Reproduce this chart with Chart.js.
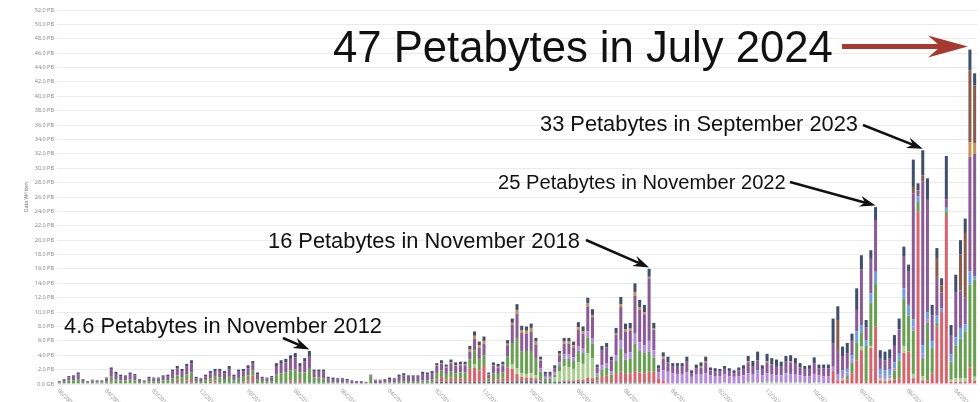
<!DOCTYPE html>
<html>
<head>
<meta charset="utf-8">
<script src="https://cdn.jsdelivr.net/npm/chart.js@4"></script>
<style>
html, body { margin: 0; padding: 0; background: #fff; }
</style>
</head>
<body>
<canvas id="chart1" width="980" height="402"></canvas>
<script>
// monthly categories, 06/2008 .. 08/2024
var firstYear = 2008, firstMonth = 6, monthCount = 195;
var months = [];
for (var k = 0; k < monthCount; k++) {
    var m = (firstMonth - 1 + k) % 12 + 1;
    var y = firstYear + Math.floor((firstMonth - 1 + k) / 12);
    months.push((m < 10 ? '0' : '') + m + '/' + y);
}

// stacked series, PB per month (bottom to top)
var slate = [
 .1,.1,.1,.1,.1,.1,.1,.1,.1,.1,
 .1,.2,.1,.1,.1,.1,.1,.1,.1,.1,
 .1,.1,.1,.1,.2,.2,.2,.2,.2,.1,
 .1,.1,.1,.2,.2,.1,.2,.1,.2,.2,
 .2,.2,.1,.1,.1,.1,.2,.2,.2,.2,
 .2,.2,.2,.2,.2,.2,.2,.1,.1,.1,
 .1,.1,.1,.1,.1,.1,.1,.1,.1,.1,
 .1,.1,.1,.1,.1,.1,.1,.2,.2,.2,
 .3,.3,.3,.3,.3,.3,.3,.3,.3,.3,
 .3,.3,.3,.3,.3,.3,.3,.4,.4,.4,
 .4,.4,.3,.3,.3,.3,.3,.3,.3,.3,
 .3,.3,.3,.3,.2,.2,.2,.2,.2,.2,
 .2,.2,.2,.2,.2,.2,.2,0,0,0,
 0,0,0,0,0,0,0,0,0,0,
 0,0,0,0,0,0,0,0,0,0,
 0,0,0,0,0,0,0,0,0,0,
 0,0,0,0,0,0,0,0,0,0,
 0,0,0,0,0,0,0,0,0,0,
 0,0,0,0,0,0,0,0,0,0,
 0,0,0,0,0
];
var red = [
 0,0,0,0,0,0,0,0,0,0,
 0,.2,0,0,0,0,0,0,0,0,
 0,0,0,0,0,.4,0,.3,.5,0,
 0,0,.2,.3,0,0,0,0,0,.2,
 .3,1.0,0,0,0,0,0,0,0,.3,
 0,.5,0,0,0,0,0,0,0,0,
 0,0,0,0,0,0,0,0,0,0,
 0,0,0,0,0,0,0,0,0,0,
 .3,.8,.3,.6,.4,.5,.4,1.8,2.0,1.6,
 2.2,.1,.4,.3,.5,2.0,1.8,1.0,.6,.5,
 .5,.4,.2,0,0,0,0,.2,.2,.2,
 .3,.3,.6,.5,.3,.8,1.0,.5,1.2,1.5,
 1.2,1.3,1.6,1.4,1.3,1.5,1.5,.8,.5,.2,
 0,0,0,0,0,0,0,0,0,0,
 0,0,0,0,0,0,0,0,0,0,
 0,0,0,0,0,0,0,0,0,0,
 0,0,0,0,1.8,.5,.5,.6,1.5,3.3,
 4.7,.3,5.0,8.0,.5,.4,.5,.6,.8,4.3,
 4.5,.8,24.0,.5,.5,1.5,8.0,10.0,23.5,.3,
 .3,.3,.3,2.3,.5
];
var lightGreen = [
 0,0,0,0,0,0,0,0,0,0,
 0,0,0,0,0,0,0,0,0,0,
 0,0,0,0,0,0,0,0,0,0,
 0,0,0,0,0,0,0,0,0,0,
 0,0,0,0,0,0,0,0,0,0,
 0,0,0,0,0,0,0,0,0,0,
 0,0,0,0,0,0,0,0,0,0,
 0,0,0,0,0,0,0,0,0,0,
 0,0,0,0,0,0,0,0,.4,0,
 0,0,0,0,0,0,.6,.8,.5,.5,
 .6,.4,0,0,0,.6,1.5,2.0,1.8,1.6,
 2.4,2.2,3.4,2.8,0,0,0,0,0,0,
 0,0,0,0,0,0,0,0,0,0,
 0,0,0,0,0,0,0,0,0,0,
 0,.2,0,0,0,0,.3,.2,.2,.2,
 .3,.3,.2,.2,.2,.2,.2,.2,.2,.1,
 .2,.2,.1,.1,0,0,.3,0,0,0,
 .5,0,.3,0,.3,.3,.3,0,0,1.0,
 0,.6,0,.6,0,0,0,0,0,.3,
 .5,.5,.5,0,.5
];
var green = [
 .1,.2,.4,.4,.5,.2,.1,.2,.1,.1,
 .3,.6,.5,.4,.4,.5,.4,.2,.1,.3,
 .3,.3,.4,.4,.6,.6,.7,.8,.9,.3,
 .2,.4,.5,.5,.7,.6,.8,.4,.6,.6,
 .7,.7,.5,.3,.3,.3,1.1,1.3,1.4,1.4,
 1.8,.9,1.4,1.9,.7,.7,.6,.2,.1,.1,
 .1,.1,0,0,0,0,.9,0,0,.1,
 .1,.1,.2,.3,.2,.2,.2,.3,.3,.4,
 .9,.8,.8,.9,.8,.8,.9,1.3,2.0,1.6,
 1.5,.4,.8,.8,.8,1.5,3.0,4.2,3.0,3.2,
 3.1,2.3,1.2,.4,.4,.4,.7,1.0,1.2,1.1,
 1.6,1.5,2.2,2.0,.5,1.0,1.1,.6,1.8,3.2,
 2.0,2.0,3.8,3.0,2.8,2.8,2.0,0,0,0,
 0,0,0,0,0,0,0,0,0,0,
 0,0,0,0,0,0,0,0,0,0,
 0,0,0,0,0,0,0,0,0,0,
 0,0,0,0,0,0,0,.5,1.5,2.5,
 2.0,5.0,6.0,6.0,0,0,0,1.2,2.5,6.5,
 5.0,6.0,1.3,2.5,8.0,3.5,.5,0,.5,2.5,
 4.5,5.5,6.5,11.5,13.5
];
var lavender = [
 0,0,0,0,0,0,0,0,0,0,
 0,0,0,0,0,0,0,0,0,0,
 0,0,0,0,0,0,0,0,0,0,
 0,0,0,0,0,0,0,0,0,0,
 0,0,0,0,0,0,0,0,0,0,
 0,0,0,0,0,0,0,0,0,0,
 0,0,0,0,0,0,0,0,0,0,
 0,0,0,0,0,0,0,0,0,0,
 0,0,0,0,0,0,0,0,0,0,
 0,0,0,0,0,0,0,0,0,0,
 0,0,.5,.3,.3,.3,.5,.6,.6,.5,
 .6,.6,.8,.7,.5,.6,.6,.5,.8,1.2,
 .9,.9,1.4,1.2,1.1,1.5,1.0,.8,1.4,1.5,
 1.5,1.4,1.4,1.6,1.0,1.3,1.3,1.5,1.2,1.1,
 1.1,1.1,1.1,1.0,1.1,1.2,1.2,1.1,1.3,1.0,
 1.2,1.0,1.0,1.0,1.1,1.2,1.1,1.0,.9,1.0,
 1.2,1.0,1.0,1.0,.6,.8,.6,.5,.4,0,
 0,0,0,0,.5,.4,.4,.4,0,0,
 0,.6,0,.6,.5,0,0,0,0,0,
 0,0,0,0,0
];
var blue = [
 0,0,0,0,0,0,0,0,0,0,
 0,0,0,0,0,0,0,0,0,0,
 0,0,0,0,0,0,0,0,0,0,
 0,0,0,0,0,0,0,0,0,0,
 0,0,0,0,0,0,0,0,0,0,
 0,0,0,0,0,0,0,0,0,0,
 0,0,0,0,0,0,0,0,0,0,
 0,0,0,0,0,0,0,0,0,0,
 0,0,0,0,0,0,0,0,0,0,
 0,0,0,0,0,0,0,0,0,0,
 0,0,0,0,0,0,0,0,0,0,
 0,0,0,0,0,0,0,0,0,0,
 0,0,0,0,0,0,0,0,0,0,
 0,0,0,0,0,0,0,0,0,0,
 0,0,0,0,0,0,0,0,.4,0,
 0,0,0,0,.2,0,0,0,0,0,
 0,0,0,0,0,0,.5,.5,.6,1.5,
 1.0,.8,1.3,1.6,.8,.8,.8,.8,.9,1.5,
 1.5,1.0,.8,1.2,1.0,1.0,1.0,.5,.5,1.0,
 1.2,1.5,1.0,1.9,.5
];
var purple = [
 .1,.3,.4,.5,.7,.3,.1,.2,.2,.2,
 .4,1.0,.8,.6,.5,.7,.7,.3,.2,.4,
 .4,.4,.5,.6,.9,1.0,.9,1.1,1.3,.4,
 .4,.6,.7,.8,.9,.8,1.1,.6,.9,.8,
 1.0,1.0,.7,.4,.4,.5,1.2,1.3,1.4,1.6,
 1.7,.9,1.5,1.8,.8,.8,.9,.5,.5,.4,
 .4,.3,.3,.2,.2,.1,.2,.4,.4,.4,
 .5,.4,.7,.8,.7,.7,.7,.9,.8,.9,
 1.0,.9,.9,1.1,1.0,1.0,1.0,1.1,1.6,1.5,
 1.6,.5,1.0,.9,1.0,1.6,2.5,3.4,2.6,2.4,
 2.7,2.0,1.0,.4,.4,.6,1.0,1.5,1.5,1.4,
 2.3,2.1,3.5,3.0,.8,2.1,2.2,1.5,2.8,4.6,
 3.0,3.0,5.3,4.5,4.3,8.7,2.8,.6,1.6,1.3,
 .9,1.0,1.0,1.5,.5,.9,1.0,1.5,.7,.7,
 .6,.8,.7,.5,.8,.9,1.5,1.2,1.4,.9,
 1.5,1.4,1.3,1.2,1.6,1.6,1.5,1.1,.9,1.0,
 1.5,1.0,1.1,1.1,3.2,3.3,2.0,2.2,2.0,3.0,
 7.7,1.8,4.8,7.2,1.4,1.4,1.5,2.3,3.4,4.5,
 4.6,17.5,.8,22.8,15.6,3.5,5.4,2.2,1.2,2.6,
 6.2,5.2,3.7,15.9,17.0
];
var orange = [
 0,0,0,0,0,0,0,0,0,0,
 0,0,0,0,0,0,0,0,0,0,
 0,0,0,0,0,0,0,0,0,0,
 0,0,0,0,0,0,0,0,0,0,
 0,0,0,0,0,0,0,0,0,0,
 0,0,0,0,0,0,0,0,0,0,
 0,0,0,0,0,0,0,0,0,0,
 0,0,0,0,0,0,0,0,0,0,
 .1,.1,.1,.1,.1,.1,.1,.3,.4,.4,
 .4,.1,.1,.1,.1,.2,.3,.5,.4,.4,
 .5,.4,.2,0,0,0,.2,.3,.3,.3,
 .4,.3,.4,.3,0,0,0,0,.2,.4,
 .3,.3,.5,.4,.3,.2,.2,0,.3,0,
 0,0,0,0,0,0,.2,.2,0,0,
 0,0,0,0,0,0,.2,0,0,0,
 .2,0,0,0,0,.2,0,0,0,0,
 0,0,0,0,0,0,0,0,0,0,
 0,0,0,0,0,0,0,0,0,0,
 0,0,0,0,0,0,0,0,0,0,
 0,0,0,2.0,1.5
];
var brown = [
 0,0,0,0,0,0,0,0,0,0,
 0,0,0,0,0,0,0,0,0,0,
 0,0,0,0,0,0,0,0,0,0,
 0,0,0,0,0,0,0,0,0,0,
 0,0,0,0,0,0,0,0,0,0,
 0,0,0,0,0,0,0,0,0,0,
 0,0,0,0,0,0,0,0,0,0,
 0,0,0,0,0,0,0,0,0,0,
 0,0,0,0,0,0,0,0,0,0,
 0,0,0,0,0,0,0,0,0,0,
 0,0,0,0,0,0,0,0,0,0,
 0,0,0,0,0,0,0,0,0,0,
 0,0,0,0,0,0,0,0,0,0,
 0,0,0,0,0,0,0,0,0,0,
 0,0,0,0,0,0,0,0,0,0,
 0,0,0,0,0,0,0,0,0,0,
 0,0,0,0,0,4.3,0,0,0,0,
 0,0,0,0,0,0,0,0,0,0,
 0,.9,0,.8,0,0,2.5,1.0,0,0,
 0,5.0,9.0,10.0,8.0
];
var navy = [
 .1,.1,.2,.2,.3,.1,.1,.1,.1,.1,
 .1,.3,.3,.2,.2,.3,.2,.1,.1,.2,
 .1,.1,.2,.2,.3,.3,.3,.4,.4,.2,
 .1,.2,.3,.3,.3,.3,.4,.2,.3,.3,
 .4,.3,.3,.2,.1,.2,.4,.5,.5,.5,
 .6,.4,.5,.7,.3,.3,.3,.2,.2,.2,
 .2,.2,.1,.1,.1,.1,.1,.1,.1,.1,
 .2,.2,.3,.3,.2,.2,.2,.3,.3,.3,
 .3,.4,.3,.4,.4,.4,.4,.5,.6,.5,
 .6,.2,.4,.4,.4,.5,.6,.8,.6,.6,
 .6,.5,.4,.3,.3,.4,.4,.5,.5,.5,
 .7,.7,.8,.8,.4,.6,.6,.5,.8,1.0,
 .8,.8,1.2,1.0,1.0,1.1,.8,.4,.6,.8,
 .5,.5,.5,.7,.4,.5,.5,.6,.4,.4,
 .4,.4,.4,.4,.4,.5,.7,.7,1.2,.5,
 1.0,.9,.9,.7,.8,.8,.8,.6,.5,.5,
 .8,.5,.5,.5,3.5,1.9,1.3,1.4,1.0,3.0,
 2.0,1.0,1.2,1.8,1.2,1.2,1.3,1.5,1.5,1.3,
 1.0,3.8,1.0,3.5,3.0,1.5,1.5,1.0,6.0,1.5,
 2.5,2.0,2.0,2.9,1.7
];

var yTicksMax = 52, yTickStep = 2;

// callouts: text and the month they point at
var noteTexts = ['4.6 Petabytes in November 2012', '16 Petabytes in November 2018',
    '25 Petabytes in November 2022', '33 Petabytes in September 2023', '47 Petabytes in July 2024'];
var noteMonths = ['11/2012', '11/2018', '11/2022', '09/2023', '07/2024'];

var seriesList = [
    { label: 'slate', data: slate, color: '#55707f' },
    { label: 'red', data: red, color: '#d9636c' },
    { label: 'light green', data: lightGreen, color: '#a9cf8f' },
    { label: 'green', data: green, color: '#67a04f' },
    { label: 'lavender', data: lavender, color: '#b48ade' },
    { label: 'blue', data: blue, color: '#6e9fe4' },
    { label: 'purple', data: purple, color: '#8b5a97' },
    { label: 'orange', data: orange, color: '#c99152' },
    { label: 'brown', data: brown, color: '#8a5a4b' },
    { label: 'navy', data: navy, color: '#3f506b' }
];

function drawArrow(ctx, x1, y1, x2, y2, lw, headLen, headW, color) {
    var a = Math.atan2(y2 - y1, x2 - x1);
    ctx.save();
    ctx.strokeStyle = color;
    ctx.fillStyle = color;
    ctx.lineWidth = lw;
    ctx.lineCap = 'butt';
    ctx.beginPath();
    ctx.moveTo(x1, y1);
    ctx.lineTo(x2 - Math.cos(a) * headLen * 0.6, y2 - Math.sin(a) * headLen * 0.6);
    ctx.stroke();
    ctx.translate(x2, y2);
    ctx.rotate(a);
    ctx.beginPath();
    ctx.moveTo(0, 0);
    ctx.lineTo(-headLen, -headW / 2);
    ctx.lineTo(-headLen * 0.68, 0);
    ctx.lineTo(-headLen, headW / 2);
    ctx.closePath();
    ctx.fill();
    ctx.restore();
}

var noteLayout = [
    { x: 64, base: 333, w: 318, from: [283, 338] },
    { x: 268, base: 248, w: 312, from: [586, 240] },
    { x: 498, base: 189, w: 288, from: [790, 182] },
    { x: 540, base: 131, w: 318, from: [863, 125] },
    { x: 333, base: 62, w: 500, from: [842, 0], big: true }
];

var extras = {
    id: 'extras',
    afterDraw: function (chart) {
        var ctx = chart.ctx, xs = chart.scales.x, ys = chart.scales.y;
        // rotated month labels
        ctx.save();
        ctx.fillStyle = '#9a9a9a';
        ctx.font = '5.5px "Noto Sans", sans-serif';
        ctx.textAlign = 'left';
        ctx.textBaseline = 'middle';
        months.forEach(function (lab, i) {
            if (i % 10 !== 0) return;
            ctx.save();
            ctx.translate(xs.getPixelForValue(i) - 1, 390);
            ctx.rotate(Math.PI / 4);
            ctx.fillText(lab, 0, 0);
            ctx.restore();
        });
        // y title
        ctx.save();
        ctx.translate(27, (ys.top + ys.bottom) / 2);
        ctx.rotate(-Math.PI / 2);
        ctx.textAlign = 'center';
        ctx.fillStyle = '#777';
        ctx.font = '5px "Noto Sans", sans-serif';
        ctx.fillText('Data Written', 0, 0);
        ctx.restore();
        ctx.restore();

        // callouts
        noteTexts.forEach(function (txt, n) {
            var L = noteLayout[n];
            var idx = months.indexOf(noteMonths[n]);
            var total = 0;
            seriesList.forEach(function (s) { total += s.data[idx]; });
            var tx = xs.getPixelForValue(idx), ty = ys.getPixelForValue(total);
            ctx.save();
            ctx.font = '20px "Liberation Sans", Arial, sans-serif';
            var size = 20 * L.w / ctx.measureText(txt).width;
            ctx.font = size + 'px "Liberation Sans", Arial, sans-serif';
            ctx.fillStyle = '#111';
            ctx.textBaseline = 'alphabetic';
            ctx.fillText(txt, L.x, L.base);
            if (L.big) {
                drawArrow(ctx, L.from[0], ty - 3, tx - 2, ty - 3, 5, 40, 22, '#a63a31');
            } else {
                drawArrow(ctx, L.from[0], L.from[1], tx, ty - 1.5, 2.5, 16, 11, '#111');
            }
            ctx.restore();
        });
    }
};

new Chart(document.getElementById('chart1').getContext('2d'), {
    type: 'bar',
    data: {
        labels: months,
        datasets: seriesList.map(function (s) {
            return {
                label: s.label,
                data: s.data,
                backgroundColor: s.color,
                borderWidth: 0,
                barPercentage: 0.64,
                categoryPercentage: 1
            };
        })
    },
    options: {
        responsive: false,
        animation: false,
        devicePixelRatio: 1,
        layout: { padding: { top: 10, right: 3, bottom: 0, left: 0 } },
        plugins: { legend: { display: false }, tooltip: { enabled: false } },
        scales: {
            x: {
                stacked: true,
                grid: { display: false },
                border: { display: false },
                ticks: { display: false },
                afterFit: function (s) { s.height = 18; }
            },
            y: {
                stacked: true,
                min: 0,
                max: yTicksMax,
                border: { display: false },
                grid: { color: '#ebebeb', drawTicks: false },
                ticks: {
                    stepSize: yTickStep,
                    color: '#8c8c8c',
                    padding: 3,
                    font: { size: 5.5, family: '"Noto Sans", sans-serif' },
                    callback: function (v) { return v === 0 ? '0.0 GB' : v.toFixed(1) + ' PB'; }
                },
                afterFit: function (s) { s.width = 57; }
            }
        }
    },
    plugins: [extras]
});
</script>
</body>
</html>
